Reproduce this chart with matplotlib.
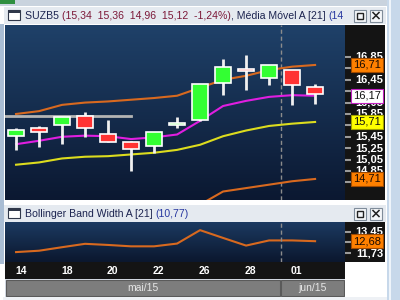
import numpy as np
import matplotlib.pyplot as plt
from matplotlib.patches import Rectangle
from matplotlib.colors import LinearSegmentedColormap

plt.rcParams['font.family'] = ['Liberation Sans', 'DejaVu Sans']

# dados do grafico (pregoes de mai/15 e jun/15)
dias = ['14', '15', '18', '19', '20', '21', '22', '25', '26', '27', '28', '29', '01', '02']
abertura = [15.46, 15.60, 15.65, 15.82, 15.50, 15.35, 15.29, 15.65, 15.75, 16.40, 16.62, 16.49, 16.63, 16.33]
maxima = [15.61, 15.64, 15.79, 15.88, 15.75, 15.37, 15.53, 15.79, 16.37, 16.82, 16.89, 16.71, 16.63, 16.38]
minima = [15.21, 15.27, 15.32, 15.45, 15.35, 14.85, 15.16, 15.61, 15.72, 16.18, 16.27, 16.36, 16.00, 16.02]
fechamento = [15.57, 15.53, 15.79, 15.60, 15.35, 15.24, 15.53, 15.70, 16.37, 16.68, 16.60, 16.71, 16.35, 16.20]

media_21 = [14.96, 15.00, 15.07, 15.10, 15.11, 15.14, 15.17, 15.22, 15.31, 15.46, 15.56, 15.64, 15.68, 15.71]
media_curta = [15.32, 15.38, 15.45, 15.47, 15.46, 15.41, 15.44, 15.49, 15.73, 15.99, 16.08, 16.15, 16.18, 16.17]
banda_sup = [15.85, 15.90, 16.01, 16.05, 16.07, 16.10, 16.13, 16.17, 16.31, 16.45, 16.52, 16.62, 16.68, 16.71]
banda_inf = [14.05, 14.08, 14.11, 14.13, 14.14, 14.16, 14.19, 14.22, 14.26, 14.49, 14.55, 14.61, 14.67, 14.71]
largura_bb = [11.81, 11.92, 12.20, 12.47, 12.38, 12.27, 12.27, 12.49, 13.56, 12.94, 12.33, 12.74, 12.74, 12.68]

linha_horizontal = 15.82
linha_fim = 5
virada_mes = 11.5
meses = ['mai/15', 'jun/15']

ticks_preco = [16.85, 16.65, 16.45, 16.25, 16.05, 15.85, 15.65, 15.45, 15.25, 15.05, 14.85, 14.65]
rotulos_preco = [16.85, 16.45, 16.05, 15.85, 15.45, 15.25, 15.05, 14.85]
ticks_bbw = [13.45, 12.59, 11.73]
rotulos_bbw = [13.45, 11.73]


def caixa(x0, y0, x1, y1):
    # posicao em pixels (origem no topo) -> fracao da figura
    return [x0 / 400, 1 - y1 / 300, (x1 - x0) / 400, (y1 - y0) / 300]


def virgula(v):
    return f'{v:.2f}'.replace('.', ',')


def gradiente(ax, topo, base):
    cmap = LinearSegmentedColormap.from_list('g', [topo, base])
    ax.imshow(np.linspace(0, 1, 256).reshape(-1, 1), cmap=cmap, aspect='auto',
              extent=[0, 1, 0, 1], transform=ax.transAxes, zorder=0)


def limpa(ax):
    ax.set_xticks([])
    ax.set_yticks([])
    for s in ax.spines.values():
        s.set_visible(False)


fig = plt.figure(figsize=(4, 3), dpi=100, facecolor='#d7dee7')
x = np.arange(len(dias))
xlim = (-0.48, 14.3)

# faixas de fundo da janela
fundo = fig.add_axes([0, 0, 1, 1], zorder=-5)
fundo.set_xlim(0, 400)
fundo.set_ylim(300, 0)
limpa(fundo)
fundo.add_patch(Rectangle((0, 0), 400, 6, fc='#c9d3de'))
fundo.add_patch(Rectangle((0, 0), 15, 4, fc='#2f8f3f'))
fundo.add_patch(Rectangle((0, 24), 4, 240, fc='#a9bdd4'))
fundo.add_patch(Rectangle((387, 0), 13, 300, fc='#c7d8ea'))
fundo.add_patch(Rectangle((389, 0), 2, 300, fc='#eef4fa'))
fundo.add_patch(Rectangle((3, 297), 384, 3, fc='#eef1f5'))


# barras de titulo
def barra_titulo(y0, y1, partes):
    axt = fig.add_axes(caixa(4, y0, 386, y1))
    axt.set_facecolor('#e5eaf0')
    axt.set_xlim(4, 386)
    axt.set_ylim(y1, y0)
    limpa(axt)
    axt.add_patch(Rectangle((8, y0 + 3), 12, 10, fc='white', ec='#30384a', lw=0.8))
    axt.add_patch(Rectangle((8, y0 + 3), 12, 2.5, fc='#30384a', lw=0))
    t = axt.text(25, (y0 + y1) / 2 + 0.5, partes[0][0], color=partes[0][1], fontsize=7.6,
                 ha='left', va='center', clip_on=True)
    for s, c in partes[1:]:
        t = axt.annotate(s, xy=(1, 0), xycoords=t, va='bottom', ha='left',
                         color=c, fontsize=7.6, annotation_clip=False)
    axt.add_patch(Rectangle((352, y0 + 1), 34, 15, fc='#e5eaf0', lw=0, zorder=3))
    axt.add_patch(Rectangle((354, y0 + 2.5), 12, 12, fc='#f4f6f9', ec='#7f8c9a', lw=0.8, zorder=4))
    axt.add_patch(Rectangle((357, y0 + 5.5), 6, 6, fc='none', ec='#222222', lw=1.0, zorder=5))
    axt.add_patch(Rectangle((370, y0 + 2.5), 12, 12, fc='#f4f6f9', ec='#7f8c9a', lw=0.8, zorder=4))
    axt.plot([373, 379], [y0 + 5.5, y0 + 11.5], color='#222222', lw=1.1, zorder=5)
    axt.plot([373, 379], [y0 + 11.5, y0 + 5.5], color='#222222', lw=1.1, zorder=5)
    return axt


barra_titulo(7, 24, [('SUZB5 ', '#1c2450'),
                     ('(15,34  15,36  14,96  15,12  -1,24%)', '#7c1838'),
                     (', Média Móvel A [21] ', '#1c2450'),
                     ('(14', '#2838a0')])
barra_titulo(205, 222, [('Bollinger Band Width A [21] ', '#1c2450'),
                        ('(10,77)', '#2838a0')])

# painel principal
ax = fig.add_axes(caixa(5, 25, 345, 200))
gradiente(ax, '#1f4169', '#0b1831')
limpa(ax)

ax.plot(x, banda_sup, color='#d8691f', lw=1.5, zorder=2)
ax.plot(x, banda_inf, color='#d8691f', lw=1.5, zorder=2)
ax.plot(x, media_21, color='#dcdc1e', lw=1.5, zorder=2)
ax.plot(x, media_curta, color='#e01ee0', lw=1.5, zorder=2)
ax.plot([xlim[0], linha_fim], [linha_horizontal, linha_horizontal], color='#b4b4b4', lw=2, zorder=2)
ax.axvline(virada_mes, color='#8c8c8c', ls=(0, (3, 2)), lw=1, zorder=1)

cores = ['#33ff33' if f >= a else '#ff3333' for a, f in zip(abertura, fechamento)]
alturas = [max(abs(f - a), 0.04) for a, f in zip(abertura, fechamento)]
bases = [min(a, f) for a, f in zip(abertura, fechamento)]
ax.vlines(x, minima, maxima, color='#f0f0f0', lw=2, zorder=3)
ax.bar(x, alturas, bottom=bases, width=0.7, color=cores, edgecolor='white', linewidth=1.2, zorder=4)

ax.set_xlim(*xlim)
ax.set_ylim(14.341, 17.411)

# escala de precos
esc = fig.add_axes(caixa(345, 25, 385, 200))
esc.set_facecolor('#141414')
for s in esc.spines.values():
    s.set_visible(False)
esc.set_xlim(0, 1)
esc.set_ylim(ax.get_ylim())
esc.set_xticks([])
esc.set_yticks(ticks_preco)
esc.tick_params(axis='y', direction='in', length=4, width=1.5, color='#9a9a9a', labelleft=False)
for v in rotulos_preco:
    esc.text(0.96, v, virgula(v), color='white', fontsize=8, fontweight='bold', ha='right', va='center')
marcas = [(banda_sup[-1], '#ff8000', '#a04a00', '#1a0a00'),
          (media_curta[-1], 'white', '#c020c0', '#101010'),
          (media_21[-1], '#ffff00', '#a0a000', '#101010'),
          (banda_inf[-1], '#ff8000', '#a04a00', '#1a0a00')]
for v, fc, ec, tc in marcas:
    esc.text(0.55, v, virgula(v), color=tc, fontsize=8, ha='center', va='center',
             bbox=dict(boxstyle='square,pad=0.2', fc=fc, ec=ec, lw=0.8))

# painel de largura das bandas
axb = fig.add_axes(caixa(5, 222, 345, 262))
gradiente(axb, '#1c3a61', '#0b172e')
limpa(axb)
axb.plot(x, largura_bb, color='#d8691f', lw=1.5)
axb.axvline(virada_mes, color='#8c8c8c', ls=(0, (3, 2)), lw=1)
axb.set_xlim(*xlim)
axb.set_ylim(11.02, 14.21)

esc2 = fig.add_axes(caixa(345, 222, 385, 262))
esc2.set_facecolor('#141414')
for s in esc2.spines.values():
    s.set_visible(False)
esc2.set_xlim(0, 1)
esc2.set_ylim(axb.get_ylim())
esc2.set_xticks([])
esc2.set_yticks(ticks_bbw)
esc2.tick_params(axis='y', direction='in', length=4, width=1.5, color='#9a9a9a', labelleft=False)
for v in rotulos_bbw:
    esc2.text(0.96, v, virgula(v), color='white', fontsize=8, fontweight='bold', ha='right', va='center')
esc2.text(0.55, largura_bb[-1], virgula(largura_bb[-1]), color='#1a0a00', fontsize=8, ha='center',
          va='center', bbox=dict(boxstyle='square,pad=0.2', fc='#ff8000', ec='#a04a00', lw=0.8))

# eixo de datas
axd = fig.add_axes(caixa(5, 262, 345, 279))
axd.set_facecolor('#141414')
limpa(axd)
axd.set_xlim(*xlim)
axd.set_ylim(0, 1)
for i in range(0, len(dias), 2):
    axd.text(x[i] - 0.05, 0.45, dias[i], color='white', fontsize=7.5, fontweight='bold', ha='left', va='center')

# faixa de meses
axm = fig.add_axes(caixa(5, 279, 345, 297))
axm.set_facecolor('#d7dee7')
limpa(axm)
axm.set_xlim(*xlim)
axm.set_ylim(0, 1)
inicios = [xlim[0], virada_mes]
fins = [virada_mes, xlim[1]]
for nome, a, b in zip(meses, inicios, fins):
    axm.add_patch(Rectangle((a + 0.03, 0.06), b - a - 0.06, 0.88, fc='#7d7d7d', ec='#5a5a5a', lw=0.8))
    axm.text((a + b) / 2, 0.48, nome, color='#e6e6e6', fontsize=7.5, ha='center', va='center')

fig.savefig('out.png', dpi=100, facecolor=fig.get_facecolor())
